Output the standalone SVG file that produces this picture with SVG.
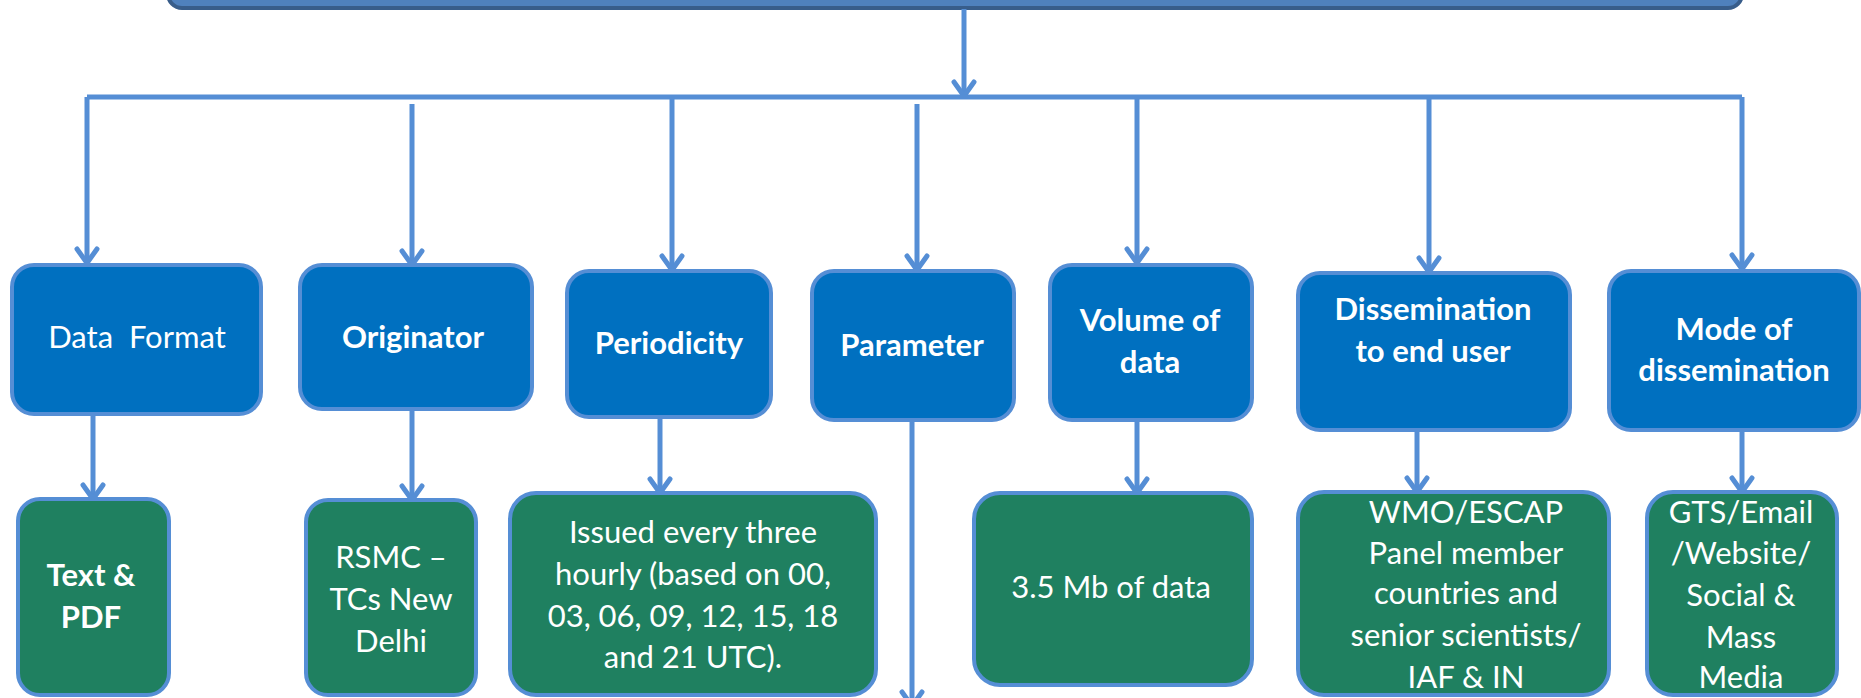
<svg xmlns="http://www.w3.org/2000/svg" width="1861" height="698" viewBox="0 0 1861 698">
<style>
.blue{fill:#0070C0;stroke:#558ED5;stroke-width:4}
.green{fill:#1F8060;stroke:#558ED5;stroke-width:4}
.t{font-family:Lato,"Liberation Sans",sans-serif;font-size:31px;fill:#FFFFFF;text-anchor:middle}
.b{font-weight:bold}
.ln{stroke:#558ED5;stroke-width:5;fill:none}
.ar{marker-end:url(#ah)}
</style>
<defs>
<marker id="ah" markerUnits="userSpaceOnUse" viewBox="0 0 20 26" markerWidth="20" markerHeight="26" refX="17" refY="13" orient="auto">
<path d="M3,3 L17,13 L3,23" fill="none" stroke="#558ED5" stroke-width="5" stroke-linecap="round" stroke-linejoin="round"/>
</marker>
</defs>
<rect width="1861" height="698" fill="#FFFFFF"/>
<g id="top">
<rect x="168" y="-70" width="1574" height="78" rx="14" fill="#4F81BD" stroke="#385D8A" stroke-width="4"/>
</g>
<g id="connectors">
<line class="ln ar" x1="964" y1="9" x2="964" y2="96"/>
<path class="ln" d="M87,97 H1742"/>
<line class="ln ar" x1="87" y1="97" x2="87" y2="263"/>
<line class="ln ar" x1="412" y1="104" x2="412" y2="265"/>
<line class="ln ar" x1="672" y1="97" x2="672" y2="270"/>
<line class="ln ar" x1="917" y1="104" x2="917" y2="270"/>
<line class="ln ar" x1="1137" y1="97" x2="1137" y2="263"/>
<line class="ln ar" x1="1429" y1="97" x2="1429" y2="272"/>
<line class="ln ar" x1="1742" y1="97" x2="1742" y2="269"/>
<line class="ln ar" x1="93" y1="414" x2="93" y2="499"/>
<line class="ln ar" x1="412" y1="409" x2="412" y2="500"/>
<line class="ln ar" x1="660" y1="417" x2="660" y2="493"/>
<line class="ln ar" x1="912" y1="420" x2="912" y2="706"/>
<line class="ln ar" x1="1137" y1="420" x2="1137" y2="493"/>
<line class="ln ar" x1="1417" y1="430" x2="1417" y2="492"/>
<line class="ln ar" x1="1742" y1="430" x2="1742" y2="492"/>
</g>
<g id="data-format">
<rect class="blue" x="12" y="265" width="249" height="149" rx="22"/>
<text class="t" x="137" y="348" xml:space="preserve">Data  Format</text>
</g>
<g id="originator">
<rect class="blue" x="300" y="265" width="232" height="144" rx="22"/>
<text class="t b" x="413" y="348">Originator</text>
</g>
<g id="periodicity">
<rect class="blue" x="567" y="271" width="204" height="146" rx="22"/>
<text class="t b" x="669" y="354">Periodicity</text>
</g>
<g id="parameter">
<rect class="blue" x="812" y="271" width="202" height="149" rx="22"/>
<text class="t b" x="912" y="356">Parameter</text>
</g>
<g id="volume">
<rect class="blue" x="1050" y="265" width="202" height="155" rx="22"/>
<text class="t b" x="1150" y="331">Volume of</text>
<text class="t b" x="1150" y="373">data</text>
</g>
<g id="dissemination">
<rect class="blue" x="1298" y="273" width="272" height="157" rx="22"/>
<text class="t b" x="1433" y="320">Dissemination</text>
<text class="t b" x="1433" y="362">to end user</text>
</g>
<g id="mode">
<rect class="blue" x="1609" y="271" width="250" height="159" rx="22"/>
<text class="t b" x="1734" y="340">Mode of</text>
<text class="t b" x="1734" y="381">dissemination</text>
</g>
<g id="text-pdf">
<rect class="green" x="18" y="499" width="151" height="196" rx="22"/>
<text class="t b" x="91" y="586">Text &amp;</text>
<text class="t b" x="91" y="628">PDF</text>
</g>
<g id="rsmc">
<rect class="green" x="306" y="500" width="170" height="195" rx="22"/>
<text class="t" x="391" y="568">RSMC –</text>
<text class="t" x="391" y="610">TCs New</text>
<text class="t" x="391" y="652">Delhi</text>
</g>
<g id="issued">
<rect class="green" x="510" y="493" width="366" height="202" rx="26"/>
<text class="t" x="693" y="543">Issued every three</text>
<text class="t" x="693" y="585">hourly (based on 00,</text>
<text class="t" x="693" y="627">03, 06, 09, 12, 15, 18</text>
<text class="t" x="693" y="668">and 21 UTC).</text>
</g>
<g id="volume-value">
<rect class="green" x="974" y="493" width="278" height="192" rx="26"/>
<text class="t" x="1111" y="598">3.5 Mb of data</text>
</g>
<g id="end-users">
<rect class="green" x="1298" y="492" width="311" height="203" rx="26"/>
<text class="t" x="1466" y="523">WMO/ESCAP</text>
<text class="t" x="1466" y="564">Panel member</text>
<text class="t" x="1466" y="604">countries and</text>
<text class="t" x="1466" y="646">senior scientists/</text>
<text class="t" x="1466" y="688">IAF &amp; IN</text>
</g>
<g id="modes">
<rect class="green" x="1647" y="492" width="190" height="203" rx="26"/>
<text class="t" x="1741" y="523">GTS/Email</text>
<text class="t" x="1741" y="564">/Website/</text>
<text class="t" x="1741" y="606">Social &amp;</text>
<text class="t" x="1741" y="648">Mass</text>
<text class="t" x="1741" y="688">Media</text>
</g>
</svg>
